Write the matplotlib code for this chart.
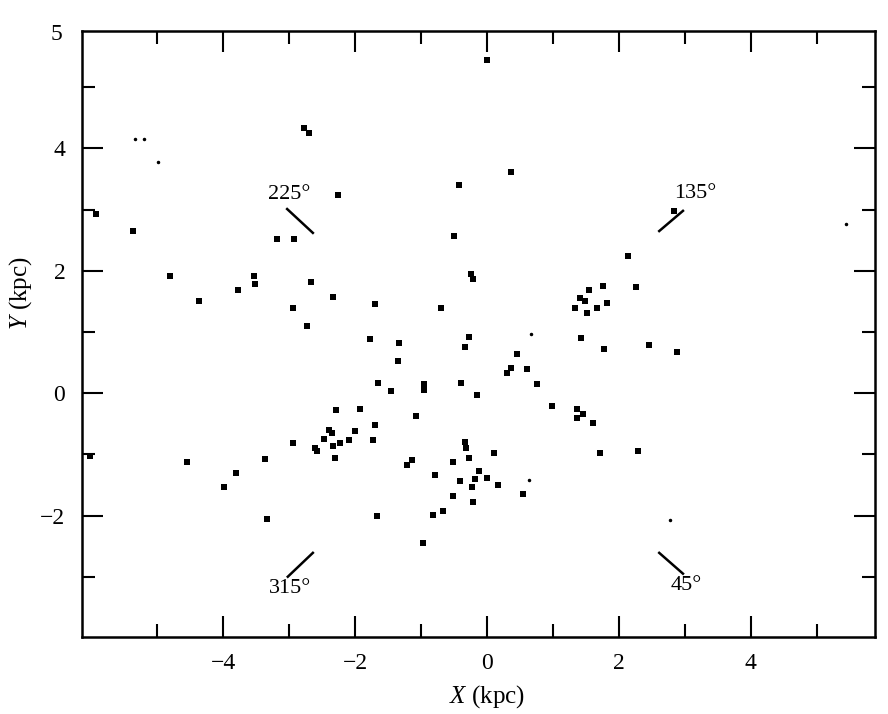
import matplotlib
matplotlib.use('Agg')
import matplotlib.pyplot as plt

plt.rcParams['font.family'] = ['Liberation Serif', 'DejaVu Serif']
plt.rcParams['mathtext.fontset'] = 'custom'
plt.rcParams['mathtext.rm'] = 'Liberation Serif'
plt.rcParams['mathtext.it'] = 'Liberation Serif:italic'

# positions of objects (kpc)
X = [0.00, -2.77, -2.70, -5.92, -5.36, -2.26, -0.43, 0.36, -0.50, -3.18,
     -2.92, 2.84, -4.80, -4.36, -3.78, -3.53, -3.52, -2.94, -2.94, -6.02,
     -4.55, -3.37, -3.80, -3.98, -3.34, -2.67, -2.33, -1.70, -0.24, -0.22,
     -0.70, -2.73, -1.77, -1.34, -1.35, -0.27, -0.33, 0.45, 0.37, 0.31,
     0.61, 0.75, -1.65, -1.45, -0.96, -0.95, -0.40, -0.15, 0.98, 1.37,
     1.45, 1.37, 1.43, 1.33, 1.41, 1.48, 1.52, 1.55, -2.29, -1.93,
     -1.70, -1.73, -1.07, -2.39, -2.35, -2.47, -2.00, -2.23, -2.34, -2.09,
     -2.61, -2.57, -2.31, -0.33, -0.32, 0.11, -0.28, -1.14, -1.21, -0.51,
     -0.79, -0.12, -0.41, -0.18, 0.00, 0.16, -0.23, 0.55, -0.51, -0.22,
     -0.67, -0.82, -1.67, -0.97, 2.14, 1.76, 2.26, 1.82, 1.66, 1.78,
     2.45, 2.88, 1.61, 1.71, 2.29]
Y = [5.45, 4.34, 4.26, 2.93, 2.65, 3.24, 3.41, 3.62, 2.57, 2.52,
     2.52, 2.97, 1.91, 1.50, 1.69, 1.91, 1.78, 1.40, -0.82, -1.02,
     -1.13, -1.07, -1.31, -1.54, -2.05, 1.82, 1.58, 1.46, 1.95, 1.87,
     1.39, 1.10, 0.88, 0.82, 0.52, 0.92, 0.76, 0.64, 0.41, 0.33,
     0.39, 0.15, 0.16, 0.03, 0.15, 0.05, 0.17, -0.03, -0.21, -0.26,
     -0.34, -0.41, 0.91, 1.40, 1.55, 1.50, 1.31, 1.69, -0.28, -0.26,
     -0.52, -0.77, -0.37, -0.60, -0.65, -0.75, -0.62, -0.82, -0.87, -0.77,
     -0.90, -0.94, -1.06, -0.79, -0.90, -0.98, -1.06, -1.09, -1.17, -1.13,
     -1.33, -1.28, -1.43, -1.41, -1.39, -1.50, -1.53, -1.65, -1.68, -1.78,
     -1.93, -1.99, -2.00, -2.45, 2.24, 1.75, 1.73, 1.47, 1.39, 0.72,
     0.79, 0.68, -0.48, -0.98, -0.95]

# faint small marks
X_SMALL = [-5.33, -5.20, -4.98, 5.44, 0.66, 0.64, 2.77]
Y_SMALL = [4.15, 4.15, 3.78, 2.76, 0.96, -1.42, -2.08]

# galactic longitude directions
DIR_LABELS = ['135°', '225°', '315°', '45°']
DIR_LINES = [((2.61, 2.97), (2.65, 2.98)),
             ((-3.03, -2.64), (3.01, 2.62)),
             ((-3.02, -2.64), (-3.00, -2.61)),
             ((2.61, 2.97), (-2.61, -2.95))]
DIR_TEXT = [(3.15, 3.27), (-3.0, 3.25), (-2.98, -3.2), (3.02, -3.15)]

X_MAJOR = [-4, -2, 0, 2, 4]
X_MINOR = [-5, -3, -1, 1, 3, 5]
Y_MAJOR = [-2, 0, 2, 4]
Y_MINOR = [-3, -1, 1, 3, 5]


def main():
    fig = plt.figure(figsize=(8.88, 7.14), dpi=100)
    ax = fig.add_axes([0.0923, 0.1083, 0.893, 0.8483])

    ax.plot(X, Y, 's', color='black', ms=4.5, mew=0)
    ax.plot(X_SMALL, Y_SMALL, '.', color='black', ms=3)

    for (lx, ly), lab, (tx, ty) in zip(DIR_LINES, DIR_LABELS, DIR_TEXT):
        ax.plot(lx, ly, color='black', lw=1.8)
        ax.text(tx, ty, lab, fontsize=16, ha='center', va='center')

    ax.set_xlim(-6.14, 5.88)
    ax.set_ylim(-3.98, 5.92)
    ax.set_xticks(X_MAJOR)
    ax.set_xticks(X_MINOR, minor=True)
    ax.set_yticks(Y_MAJOR)
    ax.set_yticks(Y_MINOR, minor=True)
    ax.tick_params(which='both', direction='in', top=True, right=True,
                   labelsize=17, pad=12, width=1.5)
    ax.tick_params(which='major', length=15)
    ax.tick_params(which='minor', length=9.5)
    for s in ax.spines.values():
        s.set_linewidth(1.8)

    # top label as printed in the original
    ax.text(-0.025, 0.995, '5', transform=ax.transAxes, fontsize=17,
            ha='right', va='center')

    ax.set_xlabel(r'$X$ (kpc)', fontsize=18, va='center')
    ax.set_ylabel(r'$Y$ (kpc)', fontsize=18, va='center')
    ax.xaxis.set_label_coords(0.511, -0.0996)
    ax.yaxis.set_label_coords(-0.078, 0.567)

    fig.savefig('out.png', dpi=100)


if __name__ == '__main__':
    main()
